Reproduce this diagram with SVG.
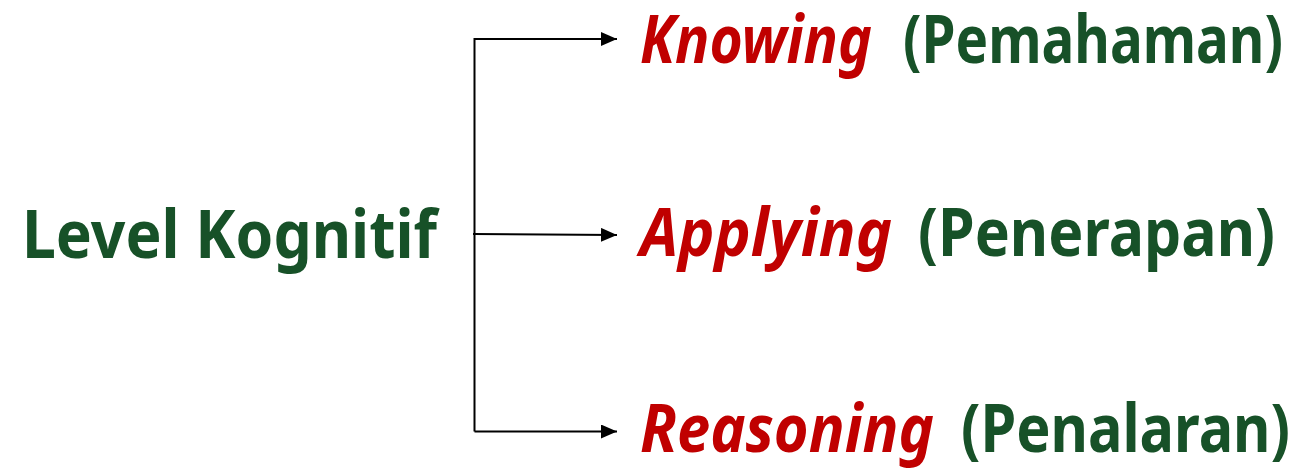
<svg xmlns="http://www.w3.org/2000/svg" width="1312" height="471" viewBox="0 0 1312 471">
<style>
text{font-family:"Noto Sans","DejaVu Sans",sans-serif;font-weight:bold;font-size:66px}
.g{fill:#175128}
.r{fill:#C00000;font-style:italic}
.c{stroke:#000;stroke-width:2;fill:none}
</style>
<defs>
<marker id="ah" viewBox="0 0 16 14" refX="16" refY="7" markerWidth="16" markerHeight="14" markerUnits="userSpaceOnUse" orient="auto">
<path d="M0,0 L16,7 L0,14 Z" fill="#000"/>
</marker>
</defs>
<rect width="1312" height="471" fill="#fff"/>
<g id="connectors">
<path class="c" d="M474.5,431.5 V39 H617" marker-end="url(#ah)"/>
<path class="c" d="M473,234 L617,235" marker-end="url(#ah)"/>
<path class="c" d="M474.5,431.5 H617" marker-end="url(#ah)"/>
</g>
<g id="root"><text class="g" x="22" y="258" textLength="415" lengthAdjust="spacingAndGlyphs">Level Kognitif</text></g>
<g id="knowing">
<text class="r" x="640" y="63" textLength="232" lengthAdjust="spacingAndGlyphs">Knowing</text>
<text class="g" x="903" y="63" textLength="380" lengthAdjust="spacingAndGlyphs">(Pemahaman)</text>
</g>
<g id="applying">
<text class="r" x="640" y="256" textLength="252" lengthAdjust="spacingAndGlyphs">Applying</text>
<text class="g" x="918" y="256" textLength="357" lengthAdjust="spacingAndGlyphs">(Penerapan)</text>
</g>
<g id="reasoning">
<text class="r" x="640" y="452" textLength="294" lengthAdjust="spacingAndGlyphs">Reasoning</text>
<text class="g" x="961" y="452" textLength="329" lengthAdjust="spacingAndGlyphs">(Penalaran)</text>
</g>
</svg>
